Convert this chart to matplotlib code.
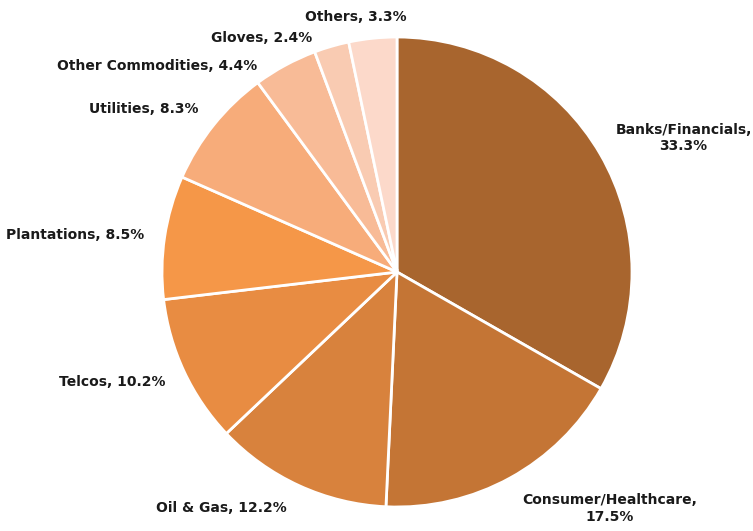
import numpy as np
import matplotlib.pyplot as plt
from matplotlib import transforms

labels = ['Banks/Financials,\n33.3%', 'Consumer/Healthcare,\n17.5%', 'Oil & Gas, 12.2%',
          'Telcos, 10.2%', 'Plantations, 8.5%', 'Utilities, 8.3%',
          'Other Commodities, 4.4%', 'Gloves, 2.4%', 'Others, 3.3%']
values = [33.3, 17.5, 12.2, 10.2, 8.5, 8.3, 4.4, 2.4, 3.3]
colors = ['#A8652E', '#C47535', '#D8823D', '#E88C42', '#F59748',
          '#F7AC7A', '#F8BB97', '#F9CBB2', '#FCD9CA']
# label nudges in pixels (x right, y up), to mimic the spreadsheet layout
nudges = [(3, -6), (5, -3), (-6, -3), (-6, 3), (-6, 0), (-4, 0), (-21, -20), (-15, -12), (35, 0)]

fig = plt.figure(figsize=(7.53, 5.31), dpi=100)
ax = fig.add_axes([0, 0, 1, 1])

wedges, _ = ax.pie(values, colors=colors, startangle=90, counterclock=False,
                   wedgeprops=dict(edgecolor='white', linewidth=2))
ax.set_aspect('auto')
ax.set_xlim(-397 / 235, 356 / 235)
ax.set_ylim(-259 / 235, 272 / 235)
ax.axis('off')

for w, lab, (nx, ny) in zip(wedges, labels, nudges):
    a = np.deg2rad((w.theta1 + w.theta2) / 2)
    c, s = np.cos(a), np.sin(a)
    ha = 'left' if c > 0 else 'right'
    va = 'bottom' if s > 0.3 else ('top' if s < -0.3 else 'center')
    tr = ax.transData + transforms.ScaledTranslation(nx / 100, ny / 100, fig.dpi_scale_trans)
    ax.text(1.06 * c, 1.06 * s, lab, ha=ha, va=va, multialignment='center',
            fontsize=10, fontfamily='DejaVu Sans', fontweight='bold', color='#1a1a1a',
            transform=tr)

fig.savefig('out.png', dpi=100)
